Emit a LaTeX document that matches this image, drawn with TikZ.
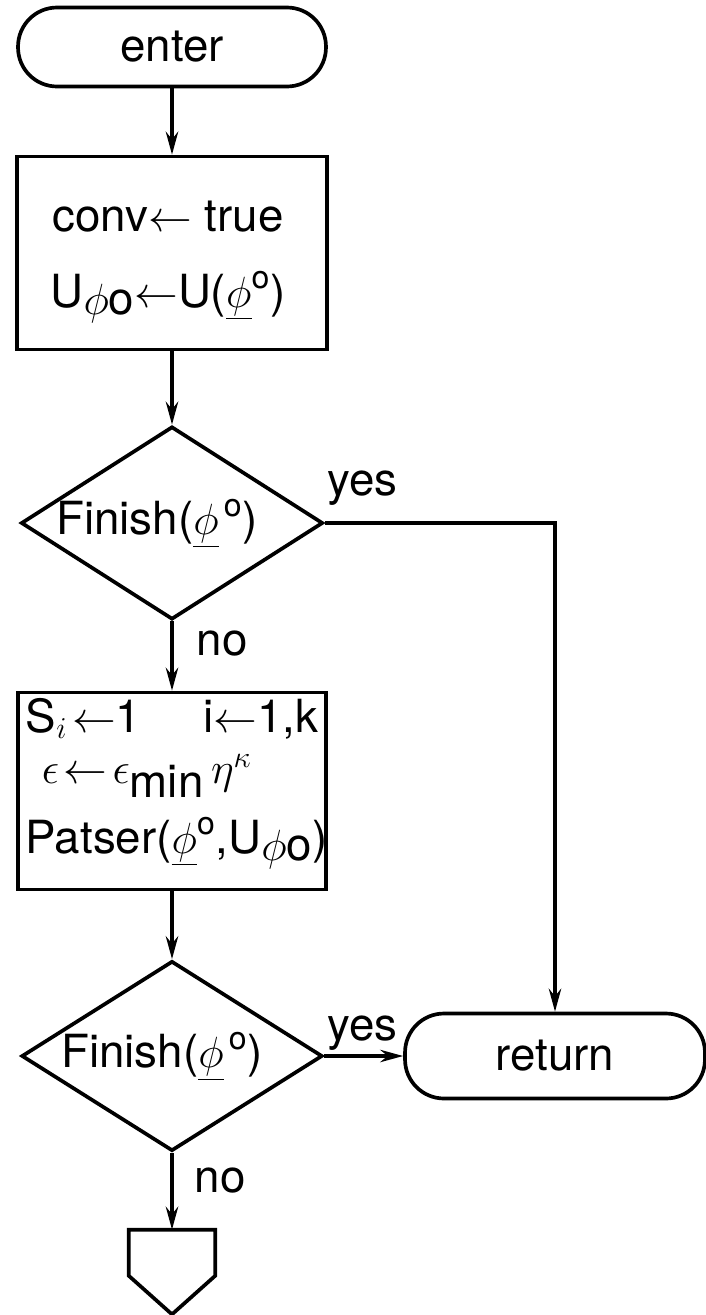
\documentclass[tikz,border=0pt]{standalone}
\usepackage{fontspec}
\setmainfont{TeX Gyre Heros}
\usetikzlibrary{shapes.geometric,arrows.meta}

\begin{document}
\begin{tikzpicture}[x=0.02cm, y=-0.02cm, line width=2.1pt,
  font=\fontsize{26}{30}\selectfont,
  term/.style={draw, rectangle, rounded corners=0.78cm, inner sep=0pt},
  procbox/.style={draw, rectangle, inner sep=0pt},
  decide/.style={draw, diamond, inner sep=0pt},
  flow/.style={-{Stealth[length=13pt,width=7pt]}}]
  \useasboundingbox (0,0) rectangle (706,1315);
  % start terminal
  \node[term, minimum width=6.16cm, minimum height=1.58cm] (enter) at (172,47) {enter};
  % initialisation box
  \node[procbox, minimum width=6.2cm, minimum height=3.86cm] (init) at (172,253) {};
  \node[align=center, font=\fontsize{26}{43}\selectfont] (initTxt) at (168,262)
    {conv$\leftarrow$ true\\U\raisebox{-0.3ex}{$\phi$o}$\leftarrow$U($\underline{\phi}^{\mathrm{o}}$)};
  % first test
  \node[decide, minimum width=6.04cm, minimum height=3.86cm,
    label={[xshift=-0.3cm]center:Finish($\underline{\phi}^{\,\mathrm{o}}$)}] (check1) at (172,523) {};
  % search box
  \node[procbox, minimum width=6.16cm, minimum height=3.94cm] (search) at (172,791) {};
  \node[anchor=base west, inner sep=0pt] (sInit) at (24,732) {S$_i\!\leftarrow$1};
  \node[anchor=base east, inner sep=0pt] (iLoop) at (320,732) {i$\leftarrow$1,k};
  \node[anchor=base west, inner sep=0pt] (epsSet) at (40,783)
    {$\epsilon\!\leftarrow\!\epsilon$\raisebox{-0.6ex}{min}\,$\eta^{\kappa}$};
  \node[anchor=base west, inner sep=0pt] (patser) at (24,853)
    {Patser($\underline{\phi}^{\mathrm{o}}$,U\raisebox{-0.3ex}{$\phi$o})};
  % second test
  \node[decide, minimum width=6.02cm, minimum height=3.8cm,
    label={[xshift=-0.2cm]center:Finish($\underline{\phi}^{\,\mathrm{o}}$)}] (check2) at (172,1056) {};
  % exit terminal
  \node[term, minimum width=6.0cm, minimum height=1.7cm] (ret) at (555,1056) {return};
  % off-page connector
  \node[minimum width=1.66cm, minimum height=1.62cm, inner sep=0pt] (offpg) at (172,1272) {};
  \draw (offpg.north west) -- (offpg.north east) -- ([yshift=-0.92cm]offpg.north east)
    -- (offpg.south) -- ([yshift=-0.92cm]offpg.north west) -- cycle;
  % branch labels
  \node[anchor=base west, inner sep=0pt] (yes1) at (326,495) {yes};
  \node[anchor=base west, inner sep=0pt] (no1) at (195,655) {no};
  \node[anchor=base west, inner sep=0pt] (yes2) at (326,1040) {yes};
  \node[anchor=base west, inner sep=0pt] (no2) at (193,1192) {no};
  % connectors
  \draw[flow] (enter) -- (init);
  \draw[flow] (init) -- (check1);
  \draw[flow] (check1) -- (search);
  \draw[flow] (search) -- (check2);
  \draw[flow] (check2) -- (offpg);
  \draw[flow] (check1.east) -| (ret.north);
  \draw[flow] (check2.east) -- (ret.west);
\end{tikzpicture}
\end{document}
